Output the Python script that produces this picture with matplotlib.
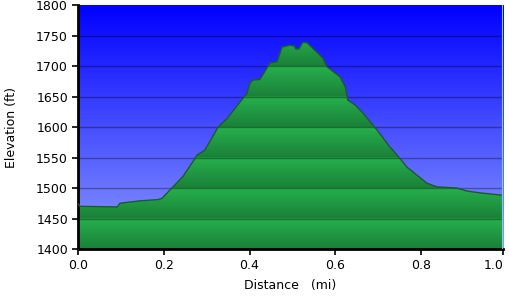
import matplotlib
matplotlib.use('Agg')
import matplotlib.pyplot as plt
import numpy as np
from matplotlib.colors import LinearSegmentedColormap

distance = [0.0, 0.005, 0.092, 0.098, 0.145, 0.187, 0.196, 0.222, 0.245, 0.268,
            0.278, 0.296, 0.327, 0.348, 0.378, 0.394, 0.401, 0.408, 0.424, 0.448,
            0.464, 0.476, 0.494, 0.504, 0.508, 0.515, 0.524, 0.534, 0.571, 0.580,
            0.611, 0.623, 0.629, 0.646, 0.664, 0.697, 0.727, 0.734, 0.767, 0.813,
            0.836, 0.883, 0.906, 0.937, 0.991]
elevation = [1475, 1470, 1469, 1475, 1479, 1481, 1483, 1502, 1519, 1543,
             1554, 1562, 1600, 1614, 1641, 1655, 1672, 1677, 1678, 1705,
             1707, 1731, 1734, 1733, 1728, 1728, 1739, 1738, 1713, 1699,
             1682, 1666, 1644, 1636, 1623, 1595, 1567, 1562, 1534, 1508,
             1502, 1500, 1495, 1492, 1488]

x_ticks = [0.0, 0.2, 0.4, 0.6, 0.8, 0.991]
x_labels = ['0.0', '0.2', '0.4', '0.6', '0.8', '1.0']
y_ticks = [1400, 1450, 1500, 1550, 1600, 1650, 1700, 1750, 1800]

xmin, xmax = 0.0, 0.991
ymin, ymax = 1400, 1800

fig = plt.figure(figsize=(5.09, 3.0), dpi=100)
ax = fig.add_axes([0.1527, 0.17, 0.8361, 0.8133])

# fondo azul degradado
fondo = LinearSegmentedColormap.from_list('fondo', ['#8c9cff', '#0000ff'])
grad = np.linspace(0, 1, 256).reshape(-1, 1)
ax.imshow(grad, cmap=fondo, aspect='auto', origin='lower',
          extent=[xmin, xmax, ymin, ymax], zorder=0)

# relleno verde con bandas cada 50 ft
yy = np.linspace(ymin, ymax, 400)
t = ((yy - ymin) % 50) / 50.0
dark = np.array([0x1b, 0x80, 0x38]) / 255
light = np.array([0x26, 0xb0, 0x4e]) / 255
img = dark[None, :] + (light - dark)[None, :] * t[:, None]
img = img[:, None, :]
im = ax.imshow(img, aspect='auto', origin='lower',
               extent=[xmin, xmax, ymin, ymax], zorder=1)
poly = ax.fill_between(distance, elevation, ymin, color='none', lw=0)
path = poly.get_paths()[0]
im.set_clip_path(path, transform=ax.transData)

for y in y_ticks[1:-1]:
    ax.axhline(y, color='black', alpha=0.35, lw=1, zorder=2)

ax.plot(distance, elevation, color='#1d5a2c', lw=1, zorder=3)
ax.axvline(xmax, color='#7fd0c8', lw=1.5, zorder=4)

ax.set_xlim(xmin, xmax)
ax.set_ylim(ymin, ymax)
ax.set_xticks(x_ticks)
ax.set_xticklabels(x_labels)
ax.get_xticklabels()[-1].set_horizontalalignment('right')
ax.set_yticks(y_ticks)
ax.tick_params(direction='out', length=4, width=1.2, labelsize=9, colors='black', pad=3)
for s in ['top', 'right']:
    ax.spines[s].set_visible(False)
for s in ['left', 'bottom']:
    ax.spines[s].set_linewidth(2)
ax.set_xlabel('Distance   (mi)', fontsize=9, labelpad=5)
ax.set_ylabel('Elevation (ft)', fontsize=9)
ax.yaxis.set_label_coords(-0.14, 0.5)

fig.savefig('out.png', dpi=100)
